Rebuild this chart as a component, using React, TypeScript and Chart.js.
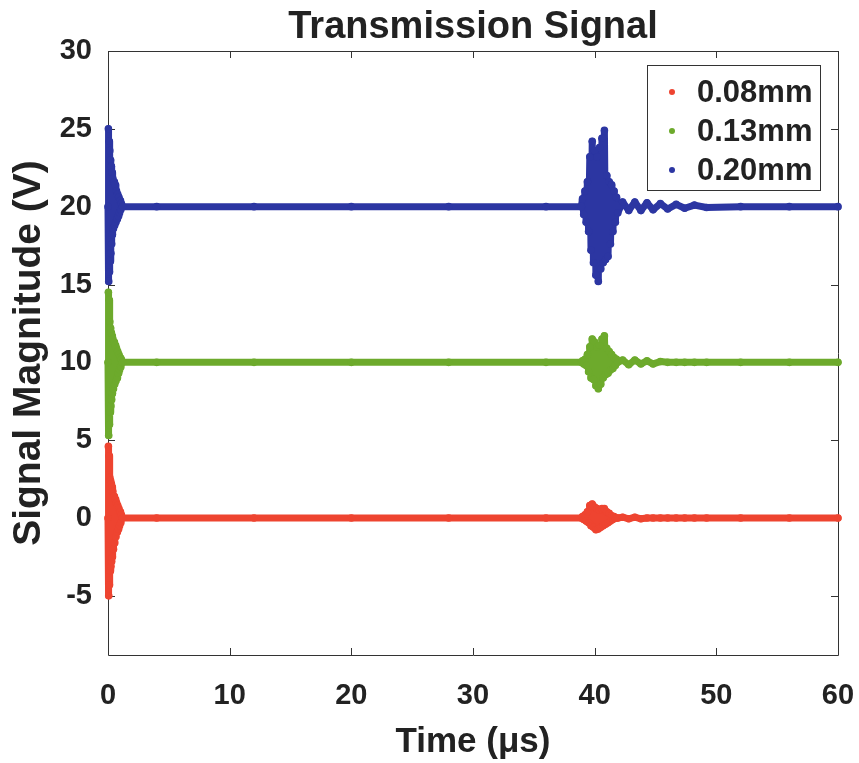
import React, { useEffect, useRef } from "react";
import { Chart, registerables } from "chart.js";

Chart.register(...registerables);

const chartTitle = "Transmission Signal";
const xAxisTitle = "Time (\u03bcs)";
const yAxisTitle = "Signal Magnitude (V)";
const seriesLabels = ["0.08mm", "0.13mm", "0.20mm"];
const seriesColors = ["#EE4430", "#6DAA2C", "#2C36A2"];

const xTickValues = [0, 10, 20, 30, 40, 50, 60];
const yTickValues = [-5, 0, 5, 10, 15, 20, 25, 30];

// time samples (µs) of the first burst, the flat stretch, the echo burst and the tail
const startTime = [0, 0.03, 0.06, 0.09, 0.12, 0.15, 0.18, 0.21, 0.24, 0.27, 0.3, 0.33, 0.36, 0.4, 0.45, 0.5, 0.55, 0.6, 0.65, 0.7, 0.75, 0.8, 0.85, 0.9, 0.95, 1.0, 1.05, 1.1, 1.2];
const flatTime = [4, 12, 20, 28, 36];
const echoTime = [38.9, 39.0, 39.1, 39.2, 39.3, 39.4, 39.5, 39.6, 39.7, 39.8, 39.9, 40.0, 40.1, 40.2, 40.3, 40.4, 40.5, 40.6, 40.7, 40.8, 40.9, 41.0, 41.1, 41.2, 41.3, 41.4, 41.5, 41.6, 41.7, 41.8, 41.9];
const tailTime = [42.3, 42.8, 43.3, 43.8, 44.3, 44.8, 45.4, 46.0, 46.7, 47.4, 48.2, 49.2, 52, 56, 60];

// 0.08 mm
const redStart = [0, 4.6, -5.0, 4.0, -4.3, 2.6, -3.4, 2.4, -3.1, 2.2, -2.8, 2.0, -2.5, 1.7, -2.0, 1.4, -1.6, 1.2, -1.2, 1.0, -0.9, 0.8, -0.7, 0.6, -0.5, 0.4, -0.3, 0.2, 0.0];
const redFlat = [0, 0, 0, 0, 0];
const redEcho = [0, 0.1, -0.1, 0.2, -0.2, 0.4, -0.3, 0.8, -0.5, 0.9, -0.6, 0.7, -0.75, 0.6, -0.7, 0.5, -0.6, 0.6, -0.5, 0.6, -0.4, 0.4, -0.3, 0.3, -0.2, 0.15, -0.1, 0.1, 0, 0, 0];
const redTail = [0.05, -0.05, 0.05, -0.05, 0, 0, 0, 0, 0, 0, 0, 0, 0, 0, 0];

// 0.13 mm
const greenStart = [10, 14.5, 5.3, 14.0, 6.0, 12.6, 6.8, 12.2, 7.2, 11.9, 7.6, 11.7, 8.0, 11.5, 8.3, 11.3, 8.6, 11.1, 8.8, 10.9, 9.0, 10.7, 9.3, 10.5, 9.5, 10.3, 9.7, 10.2, 10.0];
const greenFlat = [10, 10, 10, 10, 10];
const greenEcho = [10, 10.1, 9.9, 10.2, 9.8, 10.5, 9.4, 11.0, 9.0, 11.5, 8.9, 11.3, 8.5, 11.0, 8.3, 11.1, 8.6, 11.5, 9.0, 11.7, 9.2, 10.9, 9.3, 10.7, 9.5, 10.5, 9.6, 10.3, 9.8, 10.2, 10.0];
const greenTail = [10.15, 9.85, 10.15, 9.9, 10.1, 9.9, 10.05, 10, 10, 10, 10, 10, 10, 10, 10];

// 0.20 mm
const blueStart = [20, 25.0, 15.2, 24.2, 15.8, 23.6, 16.5, 23.0, 17.0, 22.6, 17.6, 22.2, 18.2, 21.8, 18.6, 21.6, 18.8, 21.4, 19.0, 21.0, 19.2, 20.8, 19.4, 20.6, 19.6, 20.4, 19.8, 20.2, 20.0];
const blueFlat = [20, 20, 20, 20, 20];
const blueEcho = [20, 20.5, 19.5, 21.0, 19.0, 21.6, 18.4, 23.2, 17.2, 24.2, 16.4, 23.6, 15.6, 23.2, 15.2, 23.8, 16.0, 24.4, 16.4, 24.9, 16.6, 22.0, 16.8, 21.6, 17.6, 21.4, 18.4, 21.0, 19.0, 20.6, 19.6];
const blueTail = [20.3, 19.75, 20.3, 19.75, 20.25, 19.8, 20.2, 19.85, 20.15, 19.9, 20.1, 19.95, 20, 20, 20];

const allTime = [...startTime, ...flatTime, ...echoTime, ...tailTime];
const seriesValues = [
  [...redStart, ...redFlat, ...redEcho, ...redTail],
  [...greenStart, ...greenFlat, ...greenEcho, ...greenTail],
  [...blueStart, ...blueFlat, ...blueEcho, ...blueTail],
];

const FONT = "'Liberation Sans', Arial, Helvetica, sans-serif";
const INK = "#222222";

const framePlugin = {
  id: "matlabFrame",
  beforeDatasetsDraw(chart: any) {
    const { ctx, chartArea } = chart;
    const { left, right, top, bottom } = chartArea;
    const xs = chart.scales.x;
    const ys = chart.scales.y;
    const tl = 7;
    ctx.save();
    ctx.strokeStyle = "#333333";
    ctx.lineWidth = 1;
    ctx.beginPath();
    ctx.rect(Math.round(left) + 0.5, Math.round(top) + 0.5, Math.round(right - left), Math.round(bottom - top));
    ctx.stroke();
    ctx.beginPath();
    xTickValues.forEach((v) => {
      const px = Math.round(xs.getPixelForValue(v)) + 0.5;
      ctx.moveTo(px, bottom);
      ctx.lineTo(px, bottom - tl);
      ctx.moveTo(px, top);
      ctx.lineTo(px, top + tl);
    });
    yTickValues.forEach((v) => {
      const py = Math.round(ys.getPixelForValue(v)) + 0.5;
      ctx.moveTo(left, py);
      ctx.lineTo(left + tl, py);
      ctx.moveTo(right, py);
      ctx.lineTo(right - tl, py);
    });
    ctx.stroke();
    ctx.restore();
  },
};

const legendPlugin = {
  id: "boxLegend",
  afterDatasetsDraw(chart: any) {
    const { ctx, chartArea } = chart;
    const boxRight = chartArea.right - 18;
    const boxLeft = boxRight - 173;
    const boxTop = chartArea.top + 14;
    const rowH = 39;
    const boxH = 125;
    ctx.save();
    ctx.fillStyle = "#ffffff";
    ctx.fillRect(boxLeft, boxTop, boxRight - boxLeft, boxH);
    ctx.strokeStyle = "#333333";
    ctx.lineWidth = 1;
    ctx.strokeRect(Math.round(boxLeft) + 0.5, Math.round(boxTop) + 0.5, Math.round(boxRight - boxLeft), boxH);
    ctx.font = `bold 31px ${FONT}`;
    ctx.textBaseline = "middle";
    ctx.textAlign = "left";
    chart.data.datasets.forEach((ds: any, i: number) => {
      const cy = boxTop + 27 + i * rowH;
      ctx.fillStyle = ds.backgroundColor;
      ctx.beginPath();
      ctx.arc(boxLeft + 25, cy, 3, 0, Math.PI * 2);
      ctx.fill();
      ctx.fillStyle = INK;
      ctx.fillText(ds.label, boxLeft + 50, cy + 1);
    });
    ctx.restore();
  },
};

export default function App() {
  const canvasRef = useRef<HTMLCanvasElement | null>(null);

  useEffect(() => {
    document.body.style.margin = "0";
    const canvas = canvasRef.current;
    if (!canvas) return;
    const datasets = seriesLabels.map((label, i) => ({
      label,
      data: allTime.map((t, k) => ({ x: t, y: seriesValues[i][k] })),
      borderColor: seriesColors[i],
      backgroundColor: seriesColors[i],
      pointBackgroundColor: seriesColors[i],
      pointBorderWidth: 0,
      pointRadius: 3.8,
      borderWidth: 7,
      borderJoinStyle: "round",
      borderCapStyle: "round",
      showLine: true,
      tension: 0,
      clip: false,
    }));
    const chart = new Chart(canvas, {
      type: "scatter",
      data: { datasets },
      options: {
        animation: false,
        responsive: false,
        devicePixelRatio: 1,
        layout: { padding: { left: 0, right: 21, top: 0, bottom: 0 } },
        plugins: {
          legend: { display: false },
          tooltip: { enabled: false },
          title: {
            display: true,
            fullSize: false,
            text: chartTitle,
            color: INK,
            font: { family: FONT, size: 38, weight: "bold", lineHeight: 1.2 },
            padding: { top: 5, bottom: 0.4 },
          },
        },
        scales: {
          x: {
            type: "linear",
            min: 0,
            max: 60,
            afterFit: (s: any) => { s.height = 108; s.paddingLeft = 0; s.paddingRight = 0; },
            afterBuildTicks: (s: any) => { s.ticks = xTickValues.map((v) => ({ value: v })); },
            grid: { display: false, drawTicks: false, tickLength: 0 },
            border: { display: false },
            ticks: {
              color: INK,
              font: { family: FONT, size: 29, weight: "bold" },
              padding: 24,
              maxRotation: 0,
            },
            title: {
              display: true,
              text: xAxisTitle,
              color: INK,
              font: { family: FONT, size: 35, weight: "bold", lineHeight: 1.2 },
              padding: { top: 0, bottom: 0 },
            },
          },
          y: {
            type: "linear",
            min: -8.8,
            max: 30,
            afterFit: (s: any) => { s.width = 108; s.paddingTop = 0; s.paddingBottom = 0; },
            afterBuildTicks: (s: any) => { s.ticks = yTickValues.map((v) => ({ value: v })); },
            grid: { display: false, drawTicks: false, tickLength: 0 },
            border: { display: false },
            ticks: {
              color: INK,
              font: { family: FONT, size: 29, weight: "bold" },
              padding: 16,
            },
            title: {
              display: true,
              text: yAxisTitle,
              color: INK,
              font: { family: FONT, size: 39, weight: "bold", lineHeight: 1.2 },
              padding: { top: 6, bottom: 0 },
            },
          },
        },
      },
      plugins: [framePlugin, legendPlugin],
    });
    return () => chart.destroy();
  }, []);

  return (
    <div style={{ width: 859, height: 763, background: "#ffffff" }}>
      <canvas ref={canvasRef} width={859} height={763} />
    </div>
  );
}
